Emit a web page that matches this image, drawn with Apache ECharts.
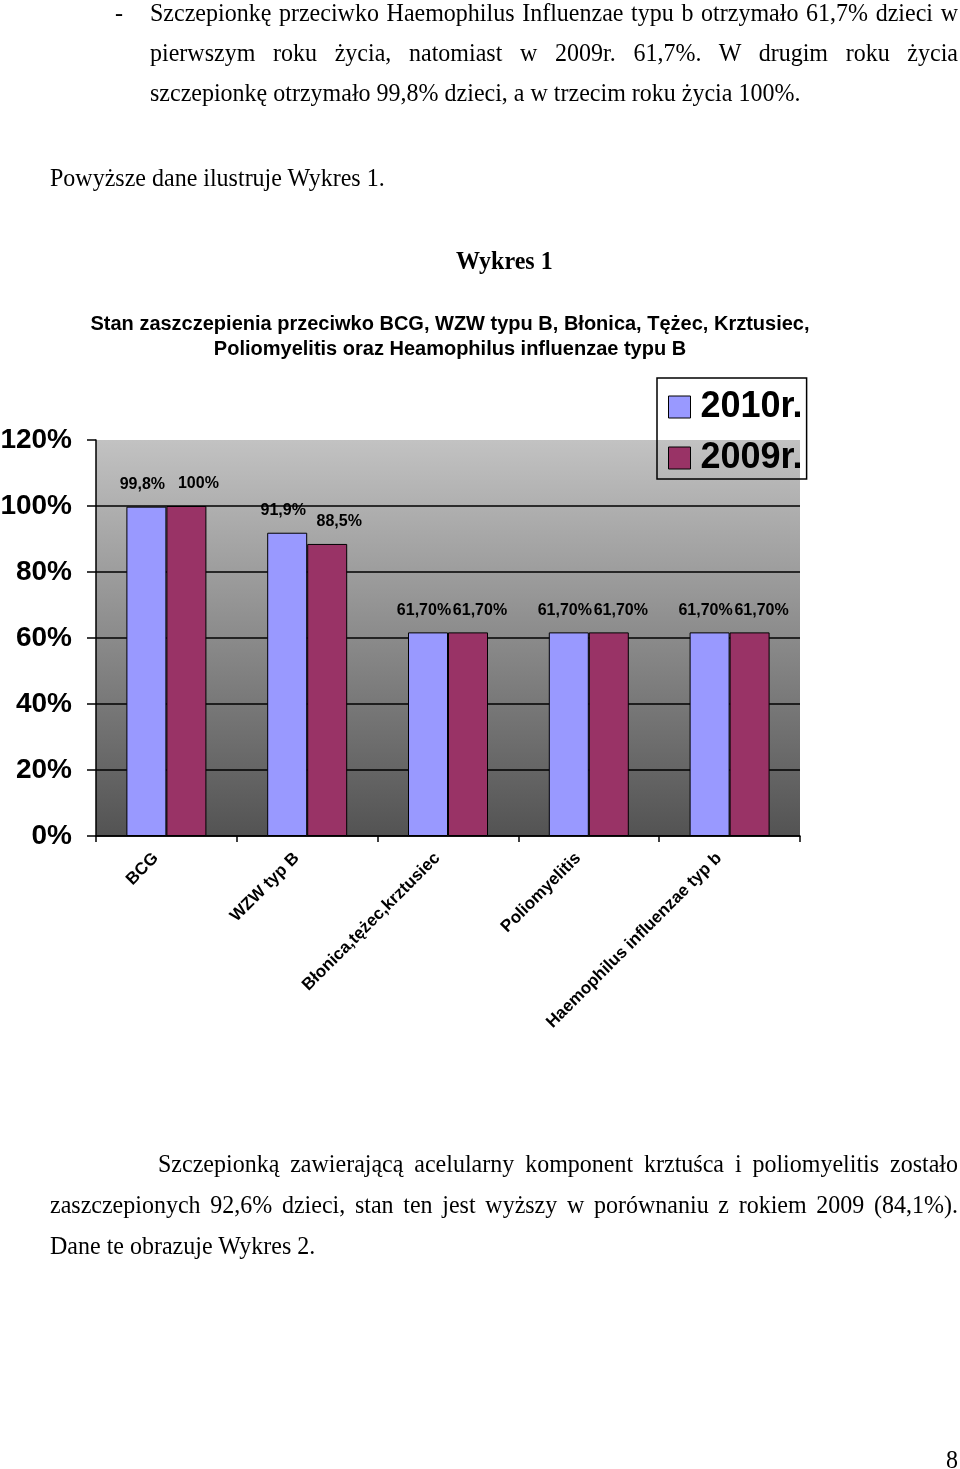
<!DOCTYPE html>
<html><head><meta charset="utf-8">
<script src="https://cdn.jsdelivr.net/npm/echarts@6/dist/echarts.min.js"></script>
<style>
body{margin:0;background:#fff;}
#page{position:relative;width:960px;height:1469px;overflow:hidden;background:#fff;}
#chart{position:absolute;left:0;top:0;width:960px;height:1469px;}
.t{position:absolute;font-family:"Liberation Serif","Times New Roman",serif;font-size:24px;line-height:40px;white-space:nowrap;color:#000;z-index:2;transform:scaleY(1.08);transform-origin:50% 50%;}
.j{text-align:justify;text-align-last:justify;}
</style></head>
<body>
<div id="page">
<div id="chart"></div>
<div class="t" style="left:115px;top:-8px;">-</div>
<div class="t j" style="left:150px;top:-8px;width:808px;">Szczepionkę przeciwko Haemophilus Influenzae typu b otrzymało 61,7% dzieci w</div>
<div class="t j" style="left:150px;top:32px;width:808px;">pierwszym roku życia, natomiast w 2009r. 61,7%. W drugim roku życia</div>
<div class="t" style="left:150px;top:72px;">szczepionkę otrzymało 99,8% dzieci, a w trzecim roku życia 100%.</div>
<div class="t" style="left:50px;top:157px;">Powyższe dane ilustruje Wykres 1.</div>
<div class="t" style="left:456px;top:240px;font-weight:bold;">Wykres 1</div>
<div class="t j" style="left:158px;top:1143px;width:800px;">Szczepionką zawierającą acelularny komponent krztuśca i poliomyelitis zostało</div>
<div class="t j" style="left:50px;top:1184px;width:908px;">zaszczepionych 92,6% dzieci, stan ten jest wyższy w porównaniu z rokiem 2009 (84,1%).</div>
<div class="t" style="left:50px;top:1225px;">Dane te obrazuje Wykres 2.</div>
<div class="t" style="left:946px;top:1439px;">8</div>
</div>
<script>
const categories = ['BCG', 'WZW typ B', 'Błonica,tężec,krztusiec', 'Poliomyelitis', 'Haemophilus influenzae typ b'];
const seriesNames = ['2010r.', '2009r.'];
const values2010 = [99.8, 91.9, 61.7, 61.7, 61.7];
const values2009 = [100, 88.5, 61.7, 61.7, 61.7];
const labels2010 = ['99,8%', '91,9%', '61,70%', '61,70%', '61,70%'];
const labels2009 = ['100%', '88,5%', '61,70%', '61,70%', '61,70%'];
const yMin = 0, yMax = 120, yStep = 20;
const chartTitle = 'Stan zaszczepienia przeciwko BCG, WZW typu B, Błonica, Tężec, Krztusiec,\nPoliomyelitis oraz Heamophilus influenzae typu B';

const FONT = '"Liberation Sans", Arial, sans-serif';
const chart = echarts.init(document.getElementById('chart'), null, {renderer: 'canvas'});
chart.setOption({
  animation: false,
  textStyle: {fontFamily: FONT},
  graphic: [{
    type: 'text', x: 450, y: 312,
    style: {text: chartTitle, font: 'bold 20px ' + FONT, textAlign: 'center', textVerticalAlign: 'top', lineHeight: 25, fill: '#000'}
  }],
  legend: {
    orient: 'vertical', left: 657, top: 378,
    padding: [10, 4, 2, 11], itemWidth: 22, itemHeight: 22, itemGap: 13,
    borderColor: '#000', borderWidth: 1.5, backgroundColor: 'transparent',
    icon: 'rect',
    itemStyle: {borderColor: '#000', borderWidth: 1},
    textStyle: {fontSize: 36, fontWeight: 'bold', color: '#000', fontFamily: FONT, lineHeight: 36, padding: [2, 0, 0, 5]},
    data: seriesNames
  },
  grid: {
    left: 96, top: 440, right: 160, bottom: 633, show: true, borderWidth: 0,
    containLabel: false, outerBoundsMode: 'none',
    backgroundColor: {type: 'linear', x: 0, y: 0, x2: 0, y2: 1,
      colorStops: [{offset: 0, color: '#c2c2c2'}, {offset: 1, color: '#535353'}]}
  },
  xAxis: {
    type: 'category', data: categories,
    axisLine: {lineStyle: {color: '#000', width: 1.5}},
    axisTick: {show: true, length: 6, lineStyle: {color: '#000', width: 1.5}},
    axisLabel: {rotate: 45, interval: 0, margin: 9, fontSize: 17, fontWeight: 'bold', color: '#000', fontFamily: FONT, padding: [0, 15, 0, 0]},
    splitLine: {show: false}
  },
  yAxis: {
    type: 'value', min: yMin, max: yMax, interval: yStep,
    axisLine: {show: true, lineStyle: {color: '#000', width: 1.5}},
    axisTick: {show: true, length: 9, lineStyle: {color: '#000', width: 1.5}},
    axisLabel: {formatter: '{value}%', fontSize: 28, fontWeight: 'bold', color: '#000', margin: 24, fontFamily: FONT},
    splitLine: {show: true, lineStyle: {color: ['#000', '#000', '#000', '#000', '#000', '#000', 'rgba(0,0,0,0)'], width: 1.5}}
  },
  series: [{
    name: seriesNames[0], type: 'bar', data: values2010, barWidth: 40, barGap: '0%',
    itemStyle: {color: '#9999FF', borderColor: '#000', borderWidth: 1},
    label: {show: true, position: 'top', distance: 14, offset: [-4, 0], fontSize: 16, fontWeight: 'bold', color: '#000', fontFamily: FONT,
      formatter: p => labels2010[p.dataIndex]}
  }, {
    name: seriesNames[1], type: 'bar', data: values2009, barWidth: 40, barGap: '0%',
    itemStyle: {color: '#993366', borderColor: '#000', borderWidth: 1},
    label: {show: true, position: 'top', distance: 14, offset: [12, 0], fontSize: 16, fontWeight: 'bold', color: '#000', fontFamily: FONT,
      formatter: p => labels2009[p.dataIndex]}
  }]
});
</script>
</body></html>
